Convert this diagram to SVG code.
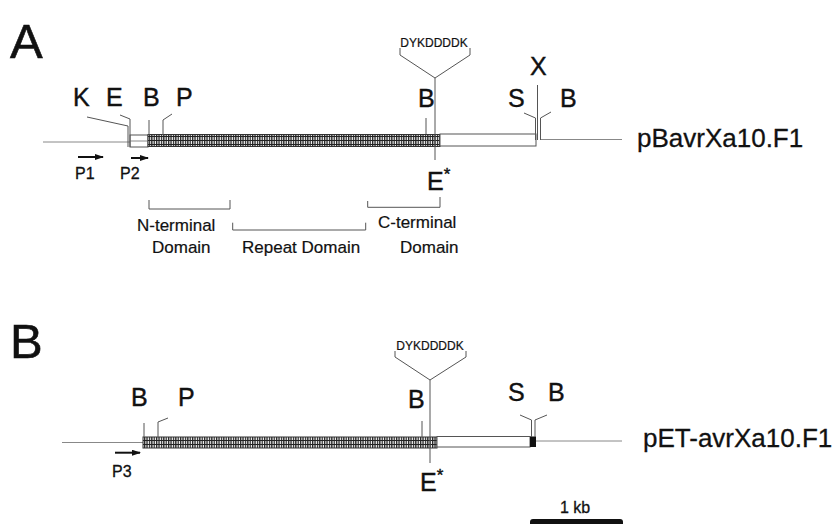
<svg xmlns="http://www.w3.org/2000/svg" width="834" height="524" viewBox="0 0 834 524">
<defs>
<pattern id="hatch" width="2.4" height="4" patternUnits="userSpaceOnUse">
<rect width="2.4" height="4" fill="#fff"/>
<rect width="1.3" height="4" fill="#222"/>
<rect width="2.4" height="1" fill="#222"/>
</pattern>
<marker id="ah" markerWidth="9" markerHeight="6" refX="8" refY="3" orient="auto" markerUnits="userSpaceOnUse">
<path d="M0,0 L9,3 L0,6 z" fill="#111"/>
</marker>
</defs>
<style>
text{font-family:"Liberation Sans",Arial,Helvetica,sans-serif;fill:#111}
.panel{font-size:49px;stroke:#111;stroke-width:0.6}
.site{font-size:25px;stroke:#111;stroke-width:0.4}
.dom{font-size:17px;stroke:#111;stroke-width:0.2}
.prim{font-size:16px;stroke:#111;stroke-width:0.3}
.tag{font-size:12px;stroke:#111;stroke-width:0.2}
.name{font-size:26px;stroke:#111;stroke-width:0.3}
.ln{stroke:#555;stroke-width:1;fill:none}
.bb{stroke:#888;stroke-width:1;fill:none}
.open{fill:#fff;stroke:#555;stroke-width:1}
.hat{fill:url(#hatch);stroke:#333;stroke-width:1}
.arr{stroke:#111;stroke-width:2;marker-end:url(#ah)}
</style>

<g id="panelA">
<text class="panel" x="10" y="58">A</text>
<g id="A-map">
<line class="bb" x1="43" y1="142" x2="130" y2="142"/>
<rect class="open" x="130" y="135" width="18" height="12"/>
<line class="bb" x1="130" y1="141" x2="148" y2="141"/>
<rect class="hat" x="148" y="134.5" width="292" height="12"/>
<rect class="open" x="440" y="134" width="96" height="12"/>
<line class="bb" x1="541" y1="139.5" x2="622" y2="139.5"/>
<text class="name" x="637" y="147" font-size="28">pBavrXa10.F1</text>
</g>
<g id="A-sites">
<g id="A-K"><text class="site" x="73" y="106">K</text><polyline class="ln" points="87,117 128,126 128,147"/></g>
<g id="A-E"><text class="site" x="106" y="106">E</text><polyline class="ln" points="120,115 130,119 130,147"/></g>
<g id="A-B1"><text class="site" x="143" y="106">B</text><line class="ln" x1="149" y1="120" x2="149" y2="135"/></g>
<g id="A-P"><text class="site" x="176" y="106">P</text><polyline class="ln" points="172,114 163,120 163,135"/></g>
<g id="A-B2"><text class="site" x="418" y="107">B</text><line class="ln" x1="426" y1="118" x2="426" y2="134"/></g>
<g id="A-flag"><text class="tag" x="434" y="47" text-anchor="middle">DYKDDDDK</text><polyline class="ln" points="400,48 400,55 435,78 470,55 470,48"/><line class="ln" x1="435" y1="78" x2="435" y2="160"/></g>
<g id="A-Estar"><text class="site" x="427" y="190">E<tspan dy="-10" font-size="17">*</tspan></text></g>
<g id="A-S"><text class="site" x="508" y="107">S</text><polyline class="ln" points="524,113 535.5,118 535.5,140"/></g>
<g id="A-X"><text class="site" x="530" y="75">X</text><line class="ln" x1="537.5" y1="85" x2="537.5" y2="140"/></g>
<g id="A-B3"><text class="site" x="560" y="107">B</text><polyline class="ln" points="551,112 540.5,118 540.5,140"/></g>
</g>
<g id="A-primers">
<line class="arr" x1="78" y1="157" x2="103" y2="157"/>
<text class="prim" x="75" y="179">P1</text>
<line class="arr" x1="131" y1="158" x2="148" y2="158"/>
<text class="prim" x="120" y="179">P2</text>
</g>
<g id="A-domains">
<polyline class="ln" points="149,200 149,209 230,209 230,200"/>
<text class="dom" x="137" y="231">N-terminal</text>
<text class="dom" x="152" y="253">Domain</text>
<polyline class="ln" points="232.7,222.7 232.7,230 365.7,230 365.7,222.7"/>
<text class="dom" x="242" y="253">Repeat Domain</text>
<polyline class="ln" points="367.7,201 367.7,207.3 440,207.3 440,197"/>
<text class="dom" x="378" y="228">C-terminal</text>
<text class="dom" x="400" y="253">Domain</text>
</g>
</g>

<g id="panelB">
<text class="panel" x="10" y="358">B</text>
<g id="B-map">
<line class="bb" x1="62" y1="442.5" x2="143" y2="442.5"/>
<rect class="hat" x="143" y="437" width="294" height="11"/>
<rect class="open" x="437" y="436.5" width="93" height="10.5"/>
<rect x="530" y="436.5" width="6" height="10.5" fill="#111"/>
<line class="bb" x1="536" y1="441" x2="622" y2="441"/>
<text class="name" x="643" y="447">pET-avrXa10.F1</text>
</g>
<g id="B-sites">
<g id="B-B1"><text class="site" x="131" y="406">B</text><line class="ln" x1="144" y1="423" x2="144" y2="437"/></g>
<g id="B-P"><text class="site" x="178" y="406">P</text><polyline class="ln" points="168,418 158,422 158,437"/></g>
<g id="B-flag"><text class="tag" x="430" y="350" text-anchor="middle">DYKDDDDK</text><polyline class="ln" points="395,351 395,357 430,380 466,357 466,351"/><line class="ln" x1="430" y1="380" x2="430" y2="463"/></g>
<g id="B-B2"><text class="site" x="408" y="408">B</text><line class="ln" x1="422" y1="421" x2="422" y2="437"/></g>
<g id="B-Estar"><text class="site" x="420" y="491">E<tspan dy="-10" font-size="17">*</tspan></text></g>
<g id="B-S"><text class="site" x="508" y="401">S</text><polyline class="ln" points="520,415 531.5,420 531.5,437"/></g>
<g id="B-B3"><text class="site" x="548" y="401">B</text><polyline class="ln" points="547,415 535,420 535,437"/></g>
</g>
<g id="B-primers">
<line class="arr" x1="115" y1="452.7" x2="140" y2="452.7"/>
<text class="prim" x="112" y="477">P3</text>
</g>
<g id="scale">
<text class="prim" x="560" y="513">1 kb</text>
<rect x="530" y="519" width="93" height="10" rx="3" fill="#111"/>
</g>
</g>
</svg>
